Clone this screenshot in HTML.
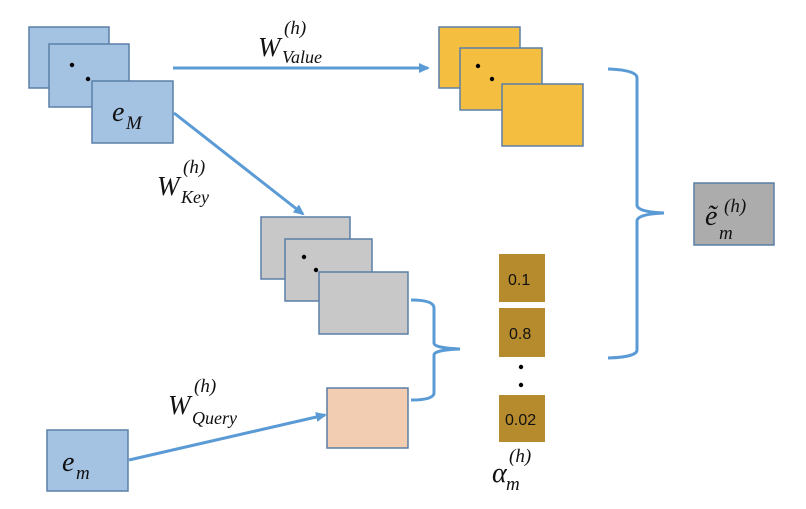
<!DOCTYPE html>
<html><head><meta charset="utf-8"><style>
html,body{margin:0;padding:0;background:#fff;}
svg{display:block;}
text{font-family:"Liberation Serif",serif;font-style:italic;fill:#111;}
.n{font-family:"Liberation Sans",sans-serif;font-style:normal;font-size:16px;fill:#111;}
</style></head><body>
<svg width="806" height="509" viewBox="0 0 806 509" xmlns="http://www.w3.org/2000/svg">
<defs><marker id="a" markerWidth="11" markerHeight="10" refX="9" refY="5" orient="auto" markerUnits="userSpaceOnUse"><path d="M0,0 L11,5 L0,10 z" fill="#5b9bd5"/></marker></defs>
<g stroke="#5b7fa8" stroke-width="1.5">
<rect x="29" y="27" width="80" height="61" fill="#a4c2e2"/>
<rect x="49" y="44" width="80" height="63" fill="#a4c2e2"/>
<rect x="92" y="81" width="81" height="62" fill="#a4c2e2"/>
<rect x="439" y="27" width="81" height="61" fill="#f4bf40"/>
<rect x="460" y="48" width="82" height="62" fill="#f4bf40"/>
<rect x="502" y="84" width="81" height="62" fill="#f4bf40"/>
<rect x="261" y="217" width="89" height="62" fill="#c8c8c8"/>
<rect x="285" y="239" width="87" height="62" fill="#c8c8c8"/>
<rect x="319" y="272" width="89" height="62" fill="#c8c8c8"/>
<rect x="327" y="388" width="81" height="60" fill="#f2cdb2"/>
<rect x="47" y="430" width="81" height="61" fill="#a4c2e2"/>
<rect x="694" y="183" width="80" height="62" fill="#acacac"/>
</g>
<g fill="#b58b2e">
<rect x="499" y="254" width="46" height="48"/>
<rect x="499" y="308" width="46" height="49"/>
<rect x="499" y="395" width="46" height="47"/>
</g>
<text class="n" x="508" y="285">0.1</text>
<text class="n" x="509" y="339">0.8</text>
<text class="n" x="505" y="425">0.02</text>
<g fill="#000">
<circle cx="72" cy="65" r="2.2"/><circle cx="88" cy="79" r="2.2"/>
<circle cx="478" cy="66" r="2.2"/><circle cx="492" cy="79" r="2.2"/>
<circle cx="304" cy="257" r="2.2"/><circle cx="316" cy="270" r="2.2"/>
<circle cx="521" cy="367" r="2.2"/><circle cx="521" cy="385" r="2.2"/>
</g>
<g stroke="#5b9bd5" stroke-width="3" fill="none">
<line x1="173" y1="68" x2="428" y2="68" marker-end="url(#a)"/>
<line x1="174" y1="113" x2="303" y2="214" marker-end="url(#a)"/>
<line x1="129" y1="460" x2="325" y2="415" marker-end="url(#a)"/>
<path d="M608,69 Q637,70 637,78 L637,205 Q637,212 664,213 Q637,214 637,221 L637,350 Q637,357 608,358"/>
<path d="M411,300 Q434,300 434,308 L434,343 Q434,348 460,349 Q434,350 434,355 L434,393 Q434,400 411,400"/>
</g>
<text x="258" y="56" font-size="27">W</text><text x="284" y="34" font-size="19">(h)</text><text x="282" y="63" font-size="18">Value</text>
<text x="157" y="195" font-size="27">W</text><text x="183" y="173" font-size="19">(h)</text><text x="181" y="203" font-size="18">Key</text>
<text x="168" y="414" font-size="27">W</text><text x="194" y="392" font-size="19">(h)</text><text x="192" y="424" font-size="18">Query</text>
<text x="112" y="121" font-size="28">e</text><text x="126" y="129" font-size="19">M</text>
<text x="62" y="471" font-size="28">e</text><text x="76" y="479" font-size="19">m</text>
<text x="705" y="225" font-size="28">ẽ</text><text x="719" y="239" font-size="19">m</text><text x="724" y="212" font-size="19">(h)</text>
<text x="492" y="482" font-size="28">α</text><text x="506" y="490" font-size="19">m</text><text x="509" y="462" font-size="19">(h)</text>
</svg>
</body></html>
